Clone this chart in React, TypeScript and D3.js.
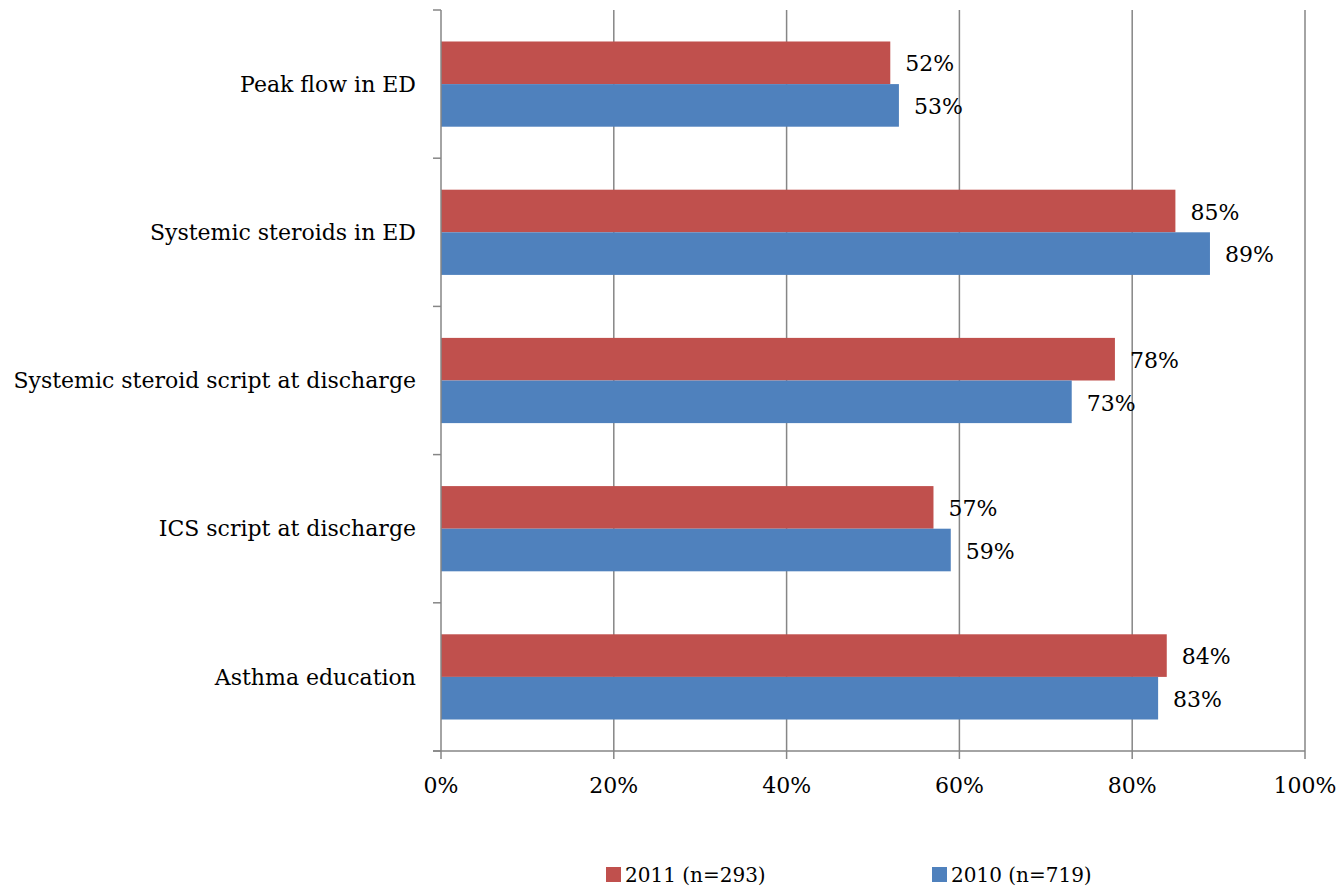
import React from "react";
import * as d3 from "d3";

const categories = [
  "Peak flow in ED",
  "Systemic steroids in ED",
  "Systemic steroid script at discharge",
  "ICS script at discharge",
  "Asthma education",
];
const series2011 = [52, 85, 78, 57, 84];
const series2010 = [53, 89, 73, 59, 83];
const seriesNames = ["2011 (n=293)", "2010 (n=719)"];
const colors = ["#C0504D", "#4F81BD"];
const xTicks = [0, 20, 40, 60, 80, 100];

const FONT = "'DejaVu Serif', 'Liberation Serif', serif";

export default function App() {
  const W = 1344, H = 888;
  const left = 441, right = 1305, top = 10, bottom = 751;
  const x = d3.scaleLinear().domain([0, 100]).range([left, right]);
  const y = d3.scaleBand<string>().domain(categories).range([top, bottom]);
  const bw = y.bandwidth();
  const barH = bw * 0.2875;
  const series = [series2011, series2010];
  const fs = 22;

  return (
    <svg width={W} height={H} style={{ position: "absolute", left: 0, top: 0, background: "#fff" }}>
      {/* gridlines */}
      {xTicks.slice(1).map((t) => (
        <line key={"g" + t} x1={x(t)} x2={x(t)} y1={top} y2={bottom} stroke="#868686" strokeWidth={1.5} />
      ))}
      {/* bars */}
      {categories.map((c, i) => {
        const cy = (y(c) as number) + bw / 2;
        return series.map((s, j) => (
          <g key={c + j}>
            <rect x={x(0)} y={cy - barH + j * barH} width={x(s[i]) - x(0)} height={barH} fill={colors[j]} />
            <text x={x(s[i]) + 15} y={cy - barH / 2 + j * barH + 1} dy="0.35em" fontFamily={FONT} fontSize={fs} fill="#000">
              {s[i]}%
            </text>
          </g>
        ));
      })}
      {/* y axis */}
      <line x1={left} x2={left} y1={top} y2={bottom} stroke="#868686" strokeWidth={1.5} />
      {[...categories.map((c) => y(c) as number), bottom].map((v, i) => (
        <line key={"yt" + i} x1={left - 8} x2={left} y1={v} y2={v} stroke="#868686" strokeWidth={1.5} />
      ))}
      {categories.map((c) => (
        <text key={"yl" + c} x={416} y={(y(c) as number) + bw / 2} dy="0.35em" textAnchor="end" fontFamily={FONT} fontSize={fs} fill="#000">
          {c}
        </text>
      ))}
      {/* x axis */}
      <line x1={left - 8} x2={right} y1={bottom} y2={bottom} stroke="#868686" strokeWidth={1.5} />
      {xTicks.map((t) => (
        <g key={"xt" + t}>
          <line x1={x(t)} x2={x(t)} y1={bottom} y2={bottom + 8} stroke="#868686" strokeWidth={1.5} />
          <text x={x(t)} y={793} textAnchor="middle" fontFamily={FONT} fontSize={fs} fill="#000">
            {t}%
          </text>
        </g>
      ))}
      {/* legend */}
      {seriesNames.map((n, j) => {
        const lx = j === 0 ? 606 : 932;
        return (
          <g key={"lg" + n}>
            <rect x={lx} y={867} width={15} height={15} fill={colors[j]} />
            <text x={lx + 19} y={875} dy="0.35em" fontFamily={FONT} fontSize={20} fill="#000">
              {n}
            </text>
          </g>
        );
      })}
    </svg>
  );
}
